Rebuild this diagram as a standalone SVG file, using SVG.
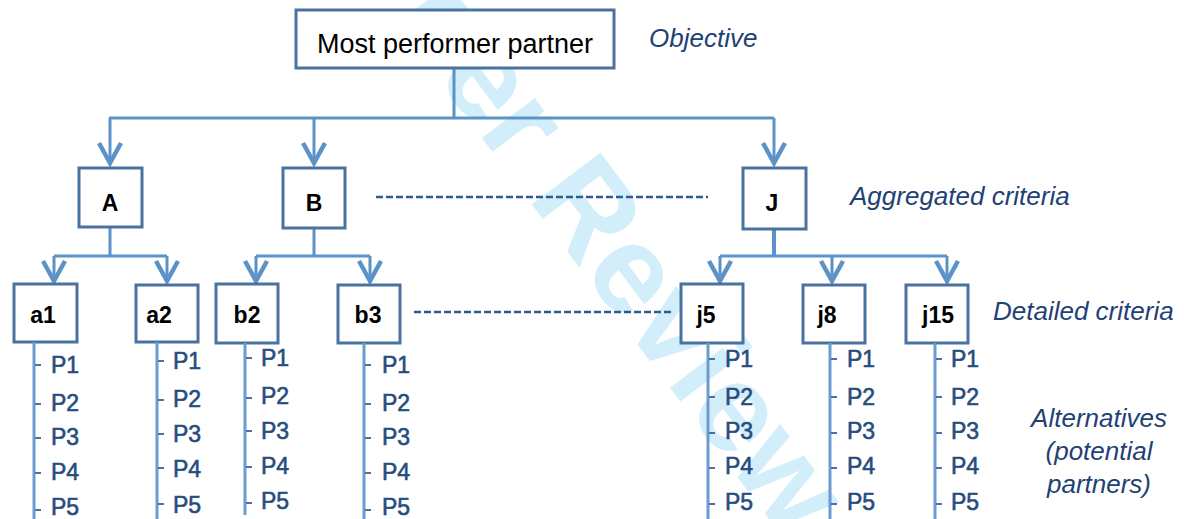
<svg xmlns="http://www.w3.org/2000/svg" width="1184" height="519" viewBox="0 0 1184 519">
<style>
.box{fill:#fff;stroke:#4a72a0;stroke-width:3}
.con{fill:none;stroke:#5b93c8;stroke-width:3}
.dash{fill:none;stroke:#2e5d8c;stroke-width:2.5;stroke-dasharray:7 3}
.col{fill:none;stroke:#6a9cd0;stroke-width:3}
.tick{fill:none;stroke:#4a72a0;stroke-width:2}
.nt{font-family:"Liberation Sans",Arial,sans-serif;font-weight:bold;font-size:23px;fill:#000;text-anchor:middle}
.pt{font-family:"Liberation Sans",Arial,sans-serif;font-size:23px;fill:#264d7e;stroke:#264d7e;stroke-width:0.6}
.lab{font-family:"Liberation Sans",Arial,sans-serif;font-style:italic;font-size:26px;fill:#1f4275}
</style>
<defs>
<marker id="arr" markerUnits="userSpaceOnUse" viewBox="-24 -14 28 28" markerWidth="28" markerHeight="28" refX="0" refY="0" orient="auto">
<path d="M-20,-11 L0,0 L-20,11" fill="none" stroke="#5b93c8" stroke-width="4.5"/>
</marker>
</defs>
<text x="393" y="20" transform="rotate(53 393 20)" font-family="Liberation Sans,Arial,sans-serif" font-weight="bold" font-size="125" fill="#d3eefb">eer Review</text>

<g id="connectors">
<path class="con" d="M454,68 V118 M109,118 H774"/>
<path class="con" d="M110,118 V163" marker-end="url(#arr)"/>
<path class="con" d="M314,118 V163" marker-end="url(#arr)"/>
<path class="con" d="M774,118 V163" marker-end="url(#arr)"/>
<path class="con" d="M110,228 V256 M54,256 H167"/>
<path class="con" d="M54,256 V281" marker-end="url(#arr)"/>
<path class="con" d="M167,256 V281" marker-end="url(#arr)"/>
<path class="con" d="M314,228 V256 M256,256 H370"/>
<path class="con" d="M256,256 V281" marker-end="url(#arr)"/>
<path class="con" d="M370,256 V281" marker-end="url(#arr)"/>
<path class="con" style="stroke-width:4" d="M774,229 V256"/>
<path class="con" d="M720,256 H947"/>
<path class="con" d="M720,256 V281" marker-end="url(#arr)"/>
<path class="con" d="M832,256 V281" marker-end="url(#arr)"/>
<path class="con" d="M947,256 V281" marker-end="url(#arr)"/>
<path class="dash" d="M376,197 H708"/>
<path class="dash" d="M414,312 H674"/>
</g>

<g id="objective">
<rect class="box" x="296" y="10" width="318" height="58"/>
<text x="455" y="53" font-family="Liberation Sans,Arial,sans-serif" font-size="27" text-anchor="middle" fill="#000">Most performer partner</text>
</g>
<g id="A"><rect class="box" x="79" y="168" width="63" height="59"/><text class="nt" x="110" y="211">A</text></g>
<g id="B"><rect class="box" x="283" y="168" width="62" height="60"/><text class="nt" x="314" y="211">B</text></g>
<g id="J"><rect class="box" x="743" y="168" width="63" height="61"/><text class="nt" x="772" y="211">J</text></g>

<g id="a1"><rect class="box" x="14" y="284" width="63" height="58"/><text class="nt" x="43" y="323">a1</text>
<path class="col" d="M34,342 V519"/>
<path class="tick" d="M35,365 h6 M35,404 h6 M35,438 h6 M35,473 h6 M35,510 h6"/>
<text class="pt" x="51" y="373">P1</text><text class="pt" x="51" y="411">P2</text><text class="pt" x="51" y="445">P3</text><text class="pt" x="51" y="480">P4</text><text class="pt" x="51" y="515">P5</text></g>

<g id="a2"><rect class="box" x="136" y="285" width="62" height="57"/><text class="nt" x="159" y="323">a2</text>
<path class="col" d="M157,342 V519"/>
<path class="tick" d="M158,361 h6 M158,400 h6 M158,434 h6 M158,468 h6 M158,504 h6"/>
<text class="pt" x="173" y="369">P1</text><text class="pt" x="173" y="407">P2</text><text class="pt" x="173" y="442">P3</text><text class="pt" x="173" y="477">P4</text><text class="pt" x="173" y="513">P5</text></g>

<g id="b2"><rect class="box" x="216" y="284" width="62" height="59"/><text class="nt" x="247" y="323">b2</text>
<path class="col" d="M245,343 V515"/>
<path class="tick" d="M246,358 h6 M246,398 h6 M246,431 h6 M246,467 h6 M246,503 h6"/>
<text class="pt" x="261" y="366">P1</text><text class="pt" x="261" y="404">P2</text><text class="pt" x="261" y="439">P3</text><text class="pt" x="261" y="474">P4</text><text class="pt" x="261" y="509">P5</text></g>

<g id="b3"><rect class="box" x="338" y="285" width="62" height="58"/><text class="nt" x="368" y="323">b3</text>
<path class="col" d="M364,343 V519"/>
<path class="tick" d="M365,365 h6 M365,404 h6 M365,438 h6 M365,473 h6 M365,510 h6"/>
<text class="pt" x="382" y="373">P1</text><text class="pt" x="382" y="411">P2</text><text class="pt" x="382" y="445">P3</text><text class="pt" x="382" y="480">P4</text><text class="pt" x="382" y="515">P5</text></g>

<g id="j5"><rect class="box" x="681" y="284" width="62" height="59"/><text class="nt" x="706" y="323">j5</text>
<path class="col" d="M708,343 V519"/>
<path class="tick" d="M709,359 h6 M709,397 h6 M709,433 h6 M709,468 h6 M709,504 h6"/>
<text class="pt" x="725" y="367">P1</text><text class="pt" x="725" y="405">P2</text><text class="pt" x="725" y="439">P3</text><text class="pt" x="725" y="474">P4</text><text class="pt" x="725" y="510">P5</text></g>

<g id="j8"><rect class="box" x="803" y="285" width="62" height="58"/><text class="nt" x="827" y="323">j8</text>
<path class="col" d="M830,343 V519"/>
<path class="tick" d="M831,359 h6 M831,397 h6 M831,433 h6 M831,468 h6 M831,504 h6"/>
<text class="pt" x="847" y="367">P1</text><text class="pt" x="847" y="405">P2</text><text class="pt" x="847" y="439">P3</text><text class="pt" x="847" y="474">P4</text><text class="pt" x="847" y="510">P5</text></g>

<g id="j15"><rect class="box" x="906" y="285" width="62" height="58"/><text class="nt" x="938" y="323">j15</text>
<path class="col" d="M935,343 V519"/>
<path class="tick" d="M936,359 h6 M936,397 h6 M936,433 h6 M936,468 h6 M936,504 h6"/>
<text class="pt" x="951" y="367">P1</text><text class="pt" x="951" y="405">P2</text><text class="pt" x="951" y="439">P3</text><text class="pt" x="951" y="474">P4</text><text class="pt" x="951" y="510">P5</text></g>

<g id="labels">
<text class="lab" x="649" y="47">Objective</text>
<text class="lab" x="850" y="205">Aggregated criteria</text>
<text class="lab" x="993" y="320">Detailed criteria</text>
<text class="lab" x="1099" y="427" text-anchor="middle">Alternatives</text>
<text class="lab" x="1099" y="460" text-anchor="middle">(potential</text>
<text class="lab" x="1099" y="493" text-anchor="middle">partners)</text>
</g>
</svg>
